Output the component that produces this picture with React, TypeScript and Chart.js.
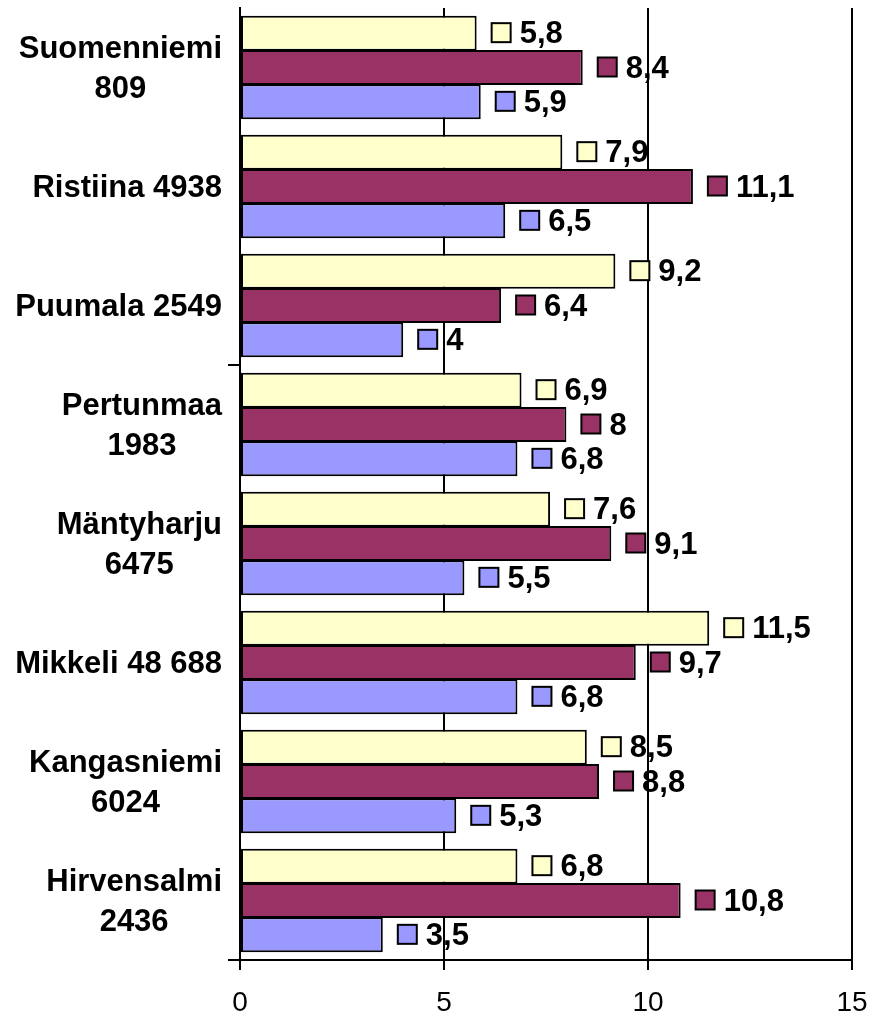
import React, { useEffect, useRef } from "react";
import { Chart, registerables } from "chart.js";

Chart.register(...registerables);

const categoryLines: string[][] = [
  ["Suomenniemi", "809"],
  ["Ristiina 4938"],
  ["Puumala 2549"],
  ["Pertunmaa", "1983"],
  ["Mäntyharju", "6475"],
  ["Mikkeli 48 688"],
  ["Kangasniemi", "6024"],
  ["Hirvensalmi", "2436"],
];

const seriesYellow = [5.8, 7.9, 9.2, 6.9, 7.6, 11.5, 8.5, 6.8];
const seriesMaroon = [8.4, 11.1, 6.4, 8, 9.1, 9.7, 8.8, 10.8];
const seriesBlue = [5.9, 6.5, 4, 6.8, 5.5, 6.8, 5.3, 3.5];

const xTicks = [0, 5, 10, 15];

const colors = ["#FFFFCC", "#993366", "#9999FF"];
const FONT = "'Liberation Sans', Arial, sans-serif";

const yLabelPlugin = {
  id: "yLabels",
  afterDraw(chart: any) {
    const ctx = chart.ctx;
    const yScale = chart.scales.y;
    ctx.save();
    ctx.font = `bold 31px ${FONT}`;
    ctx.fillStyle = "#000";
    ctx.textBaseline = "alphabetic";
    ctx.textAlign = "center";
    const right = 222;
    const lh = 40;
    categoryLines.forEach((lines, i) => {
      const c = yScale.getPixelForValue(i);
      const maxW = Math.max(...lines.map((l) => ctx.measureText(l).width));
      const cx = right - maxW / 2;
      const n = lines.length;
      lines.forEach((line, k) => {
        const by = c + (k - (n - 1) / 2) * lh + 10;
        ctx.fillText(line, cx, by);
      });
    });
    ctx.restore();
  },
};

const valueLabelPlugin = {
  id: "valueLabels",
  afterDatasetsDraw(chart: any) {
    const ctx = chart.ctx;
    ctx.save();
    chart.data.datasets.forEach((ds: any, di: number) => {
      const meta = chart.getDatasetMeta(di);
      meta.data.forEach((el: any, j: number) => {
        const v = ds.data[j];
        const x = el.x;
        const y = el.y;
        ctx.fillStyle = ds.backgroundColor;
        ctx.fillRect(x + 15, y - 10, 19, 19);
        ctx.strokeStyle = "#000";
        ctx.lineWidth = 2;
        ctx.strokeRect(x + 15, y - 10, 19, 19);
        ctx.fillStyle = "#000";
        ctx.font = `bold 31px ${FONT}`;
        ctx.textAlign = "left";
        ctx.textBaseline = "alphabetic";
        ctx.fillText(String(v).replace(".", ","), x + 43, y + 10);
      });
    });
    ctx.restore();
  },
};

export default function App() {
  const ref = useRef<HTMLCanvasElement | null>(null);
  useEffect(() => {
    if (!ref.current) return;
    const chart = new Chart(ref.current, {
      type: "bar",
      data: {
        labels: categoryLines.map((l) => l.join(" ")),
        datasets: [
          { data: seriesYellow, backgroundColor: colors[0] },
          { data: seriesMaroon, backgroundColor: colors[1] },
          { data: seriesBlue, backgroundColor: colors[2] },
        ].map((d) => ({
          ...d,
          borderColor: "#000",
          borderWidth: 2,
          borderSkipped: false,
          categoryPercentage: 103 / 119,
          barPercentage: 1.02,
        })),
      },
      options: {
        indexAxis: "y",
        responsive: false,
        animation: false,
        layout: { padding: { top: 8, right: 20, left: 0, bottom: 0 } },
        plugins: { legend: { display: false }, tooltip: { enabled: false } },
        scales: {
          x: {
            type: "linear",
            min: 0,
            max: 15,
            afterBuildTicks: (s: any) => {
              s.ticks = xTicks.map((v) => ({ value: v }));
            },
            ticks: {
              color: "#000",
              font: { family: FONT, size: 28 },
              padding: 16,
              maxRotation: 0,
            },
            grid: { color: "#000", lineWidth: 2, tickLength: 10, drawTicks: true },
            border: { display: true, color: "#000", width: 2 },
            afterFit: (s: any) => {
              s.height = 58;
              s.paddingLeft = 0;
              s.paddingRight = 0;
            },
          },
          y: {
            type: "category",
            offset: true,
            ticks: { display: false },
            grid: {
              offset: true,
              drawOnChartArea: false,
              drawTicks: true,
              tickLength: 12,
              lineWidth: 2,
              color: (c: any) =>
                c.type === "tick" ? (c.index === 3 ? "#000" : "rgba(0,0,0,0)") : "#000",
            },
            border: { display: true, color: "#000", width: 2 },
            afterFit: (s: any) => {
              s.width = 240;
              s.paddingTop = 0;
              s.paddingBottom = 0;
            },
          },
        },
      },
      plugins: [yLabelPlugin, valueLabelPlugin],
    });
    return () => chart.destroy();
  }, []);
  return (
    <div style={{ position: "absolute", left: 0, top: 0, width: 872, height: 1018, background: "#fff" }}>
      <canvas ref={ref} width={872} height={1018} />
    </div>
  );
}
